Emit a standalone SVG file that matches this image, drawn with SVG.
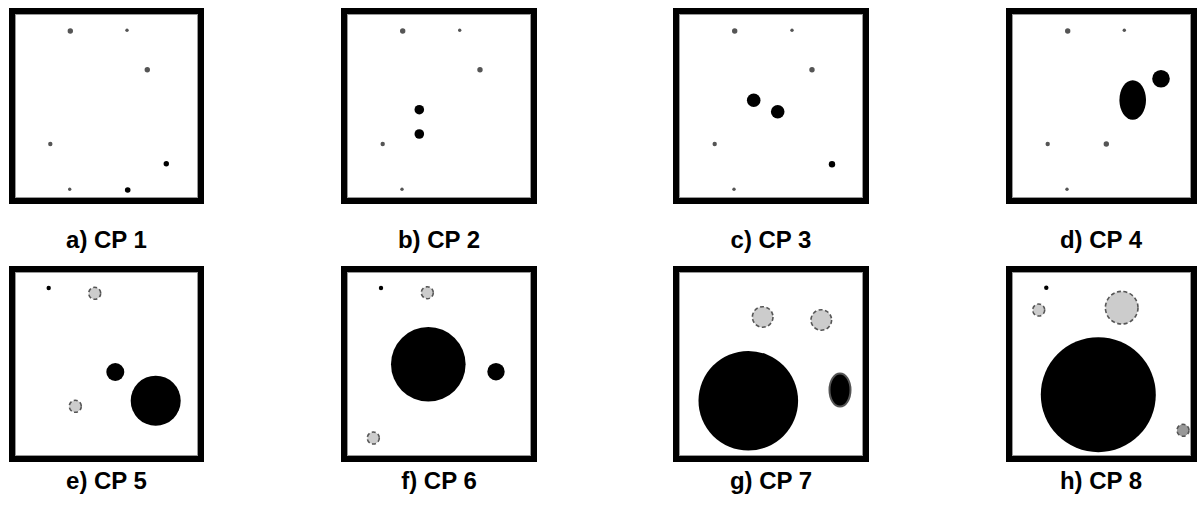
<svg xmlns="http://www.w3.org/2000/svg" width="1201" height="511" viewBox="0 0 1201 511">
<style>
.frame{fill:#fff;stroke:#000;stroke-width:6}
.inner{fill:none;stroke:#999;stroke-width:1}
.g{fill:#555}
.k{fill:#000}
.d{fill:#ccc;stroke:#555;stroke-width:1.6;stroke-dasharray:4 2.5}
.lbl{font-family:"Liberation Sans",Arial,sans-serif;font-weight:bold;font-size:24px;fill:#000;text-anchor:middle}
</style>
<rect width="1201" height="511" fill="#fff"/>

<g id="panel-a">
<rect class="frame" x="12" y="11" width="189" height="190"/>
<rect class="inner" x="15.5" y="14.5" width="182" height="183"/>
<circle class="g" cx="70.3" cy="31" r="2.7"/>
<circle class="g" cx="127" cy="30.3" r="1.7"/>
<circle class="g" cx="147.3" cy="69.7" r="2.7"/>
<circle class="g" cx="50.3" cy="144" r="2.2"/>
<circle class="k" cx="166.3" cy="163.7" r="2.7"/>
<circle class="g" cx="69.7" cy="189.3" r="1.7"/>
<circle class="k" cx="127.7" cy="190" r="2.8"/>
<text class="lbl" x="106.5" y="248">a) CP 1</text>
</g>

<g id="panel-b">
<rect class="frame" x="344" y="11" width="190" height="190"/>
<rect class="inner" x="347.5" y="14.5" width="183" height="183"/>
<circle class="g" cx="402.7" cy="31" r="2.7"/>
<circle class="g" cx="459.7" cy="30.3" r="1.7"/>
<circle class="g" cx="480" cy="69.7" r="2.7"/>
<circle class="k" cx="419.3" cy="109.7" r="4.8"/>
<circle class="k" cx="419.3" cy="134" r="4.8"/>
<circle class="g" cx="382.7" cy="144" r="2.2"/>
<circle class="g" cx="402" cy="189.3" r="1.7"/>
<text class="lbl" x="439" y="248">b) CP 2</text>
</g>

<g id="panel-c">
<rect class="frame" x="676" y="11" width="190" height="190"/>
<rect class="inner" x="679.5" y="14.5" width="183" height="183"/>
<circle class="g" cx="734.7" cy="31" r="2.7"/>
<circle class="g" cx="792" cy="30.3" r="1.7"/>
<circle class="g" cx="812" cy="69.7" r="2.7"/>
<circle class="k" cx="753.7" cy="100.3" r="6.8"/>
<circle class="k" cx="777.7" cy="111.7" r="6.8"/>
<circle class="g" cx="714.7" cy="144" r="2.2"/>
<circle class="k" cx="832" cy="164.3" r="3.2"/>
<circle class="g" cx="734" cy="189.3" r="1.7"/>
<text class="lbl" x="771" y="248">c) CP 3</text>
</g>

<g id="panel-d">
<rect class="frame" x="1009" y="11" width="185" height="190"/>
<rect class="inner" x="1012.5" y="14.5" width="178" height="183"/>
<circle class="g" cx="1067.7" cy="31" r="2.7"/>
<circle class="g" cx="1124.3" cy="30.3" r="1.7"/>
<circle class="k" cx="1161" cy="78.7" r="8.8"/>
<ellipse class="k" cx="1132.7" cy="100" rx="13.3" ry="19.7"/>
<circle class="g" cx="1047.7" cy="144" r="2.2"/>
<circle class="g" cx="1106.3" cy="144" r="2.7"/>
<circle class="g" cx="1067" cy="189.3" r="1.7"/>
<text class="lbl" x="1101" y="248">d) CP 4</text>
</g>

<g id="panel-e">
<rect class="frame" x="12" y="269" width="189" height="190"/>
<rect class="inner" x="15.5" y="272.5" width="182" height="183"/>
<circle class="k" cx="48.7" cy="288" r="2.2"/>
<circle class="d" cx="94.7" cy="293.3" r="6"/>
<circle class="k" cx="115.3" cy="372" r="9"/>
<circle class="k" cx="155.7" cy="400.7" r="25"/>
<circle class="d" cx="75.3" cy="406.3" r="6"/>
<text class="lbl" x="106.5" y="489">e) CP 5</text>
</g>

<g id="panel-f">
<rect class="frame" x="344" y="269" width="190" height="190"/>
<rect class="inner" x="347.5" y="272.5" width="183" height="183"/>
<circle class="k" cx="381" cy="288" r="2.2"/>
<circle class="d" cx="427.3" cy="292.7" r="6"/>
<circle class="k" cx="428.3" cy="364.3" r="37.3"/>
<circle class="k" cx="496" cy="371.7" r="8.7"/>
<circle class="d" cx="373.3" cy="438" r="6"/>
<text class="lbl" x="439" y="489">f) CP 6</text>
</g>

<g id="panel-g">
<rect class="frame" x="676" y="269" width="190" height="190"/>
<rect class="inner" x="679.5" y="272.5" width="183" height="183"/>
<circle class="d" cx="762.7" cy="317" r="10.3"/>
<circle class="d" cx="821.3" cy="320" r="10.3"/>
<circle class="k" cx="748.3" cy="400.7" r="49.8"/>
<ellipse cx="840" cy="390" rx="10.5" ry="16.5" fill="#000" stroke="#555" stroke-width="2"/>
<text class="lbl" x="771" y="489">g) CP 7</text>
</g>

<g id="panel-h">
<rect class="frame" x="1009" y="269" width="185" height="190"/>
<rect class="inner" x="1012.5" y="272.5" width="178" height="183"/>
<circle class="k" cx="1046.3" cy="287.7" r="2.2"/>
<circle class="d" cx="1038.7" cy="310" r="6"/>
<circle class="d" cx="1121.7" cy="307.7" r="16.3"/>
<circle class="k" cx="1098.3" cy="394.7" r="57.5"/>
<circle class="d" cx="1183" cy="430.3" r="6" style="fill:#999"/>
<text class="lbl" x="1101" y="489">h) CP 8</text>
</g>
</svg>
